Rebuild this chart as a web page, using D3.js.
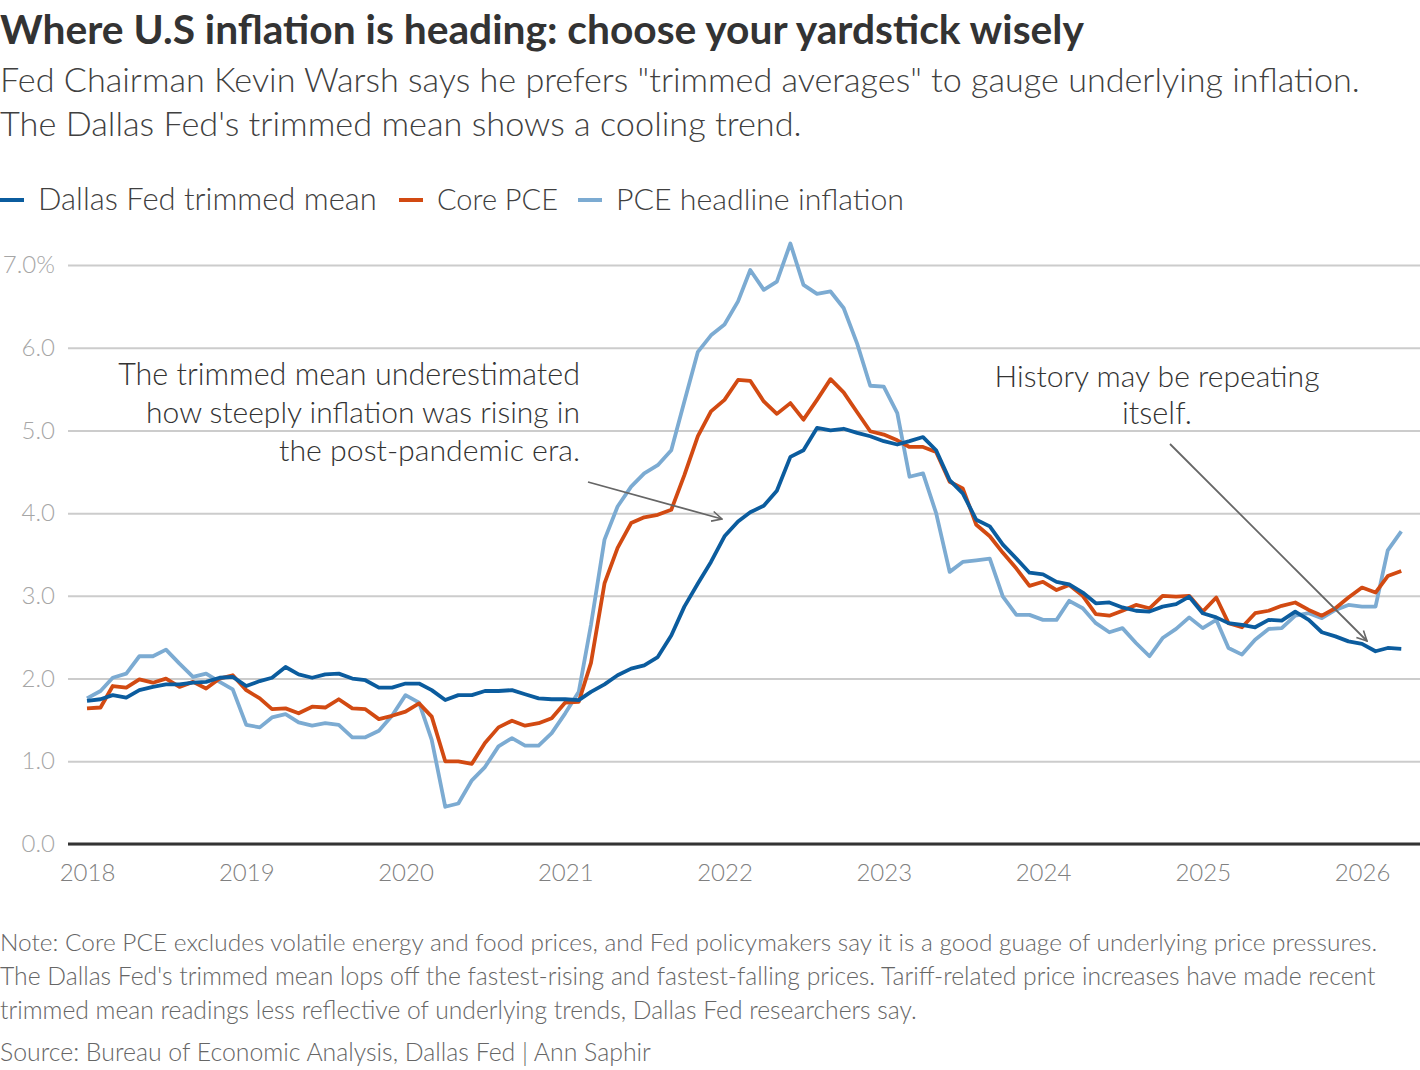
<!DOCTYPE html>
<html>
<head>
<meta charset="utf-8">
<script src="https://cdn.jsdelivr.net/npm/d3@7"></script>
<style>
  body { margin: 0; background: #fff; }
  svg text { font-family: Lato, "Noto Sans", sans-serif; }
</style>
</head>
<body>
<svg id="chart"></svg>
<script>
// monthly readings, Jan 2018 .. Apr 2026 (year-over-year %)
const startMonth = new Date(2018, 0, 1);
const trimmedMean = [
  1.73, 1.75, 1.80, 1.77, 1.86, 1.90, 1.93, 1.93, 1.95, 1.96, 2.01, 2.02,
  1.91, 1.97, 2.01, 2.14, 2.05, 2.01, 2.05, 2.06, 2.00, 1.98, 1.89, 1.89,
  1.94, 1.94, 1.86, 1.74, 1.80, 1.80, 1.85, 1.85, 1.86, 1.81, 1.76, 1.75,
  1.75, 1.74, 1.84, 1.93, 2.04, 2.12, 2.16, 2.26, 2.52, 2.87, 3.15, 3.41,
  3.72, 3.90, 4.01, 4.09, 4.27, 4.68, 4.76, 5.03, 5.00, 5.02, 4.97, 4.93,
  4.87, 4.83, 4.87, 4.92, 4.76, 4.40, 4.24, 3.92, 3.84, 3.62, 3.45, 3.28,
  3.26, 3.17, 3.14, 3.04, 2.91, 2.92, 2.86, 2.82, 2.81, 2.87, 2.90, 2.99,
  2.79, 2.74, 2.67, 2.65, 2.62, 2.71, 2.70, 2.81, 2.71, 2.56, 2.51, 2.45,
  2.42, 2.33, 2.37, 2.36
];
const corePce = [
  1.64, 1.65, 1.91, 1.89, 1.99, 1.95, 2.00, 1.90, 1.96, 1.88, 2.00, 2.04,
  1.86, 1.76, 1.63, 1.64, 1.58, 1.66, 1.65, 1.75, 1.64, 1.63, 1.51, 1.55,
  1.60, 1.70, 1.54, 1.00, 1.00, 0.97, 1.22, 1.41, 1.49, 1.43, 1.46, 1.52,
  1.71, 1.72, 2.19, 3.15, 3.58, 3.88, 3.95, 3.98, 4.04, 4.46, 4.93, 5.23,
  5.37, 5.61, 5.60, 5.35, 5.20, 5.33, 5.13, 5.37, 5.62, 5.46, 5.22, 4.99,
  4.95, 4.88, 4.80, 4.80, 4.74, 4.38, 4.30, 3.86, 3.72, 3.52, 3.33, 3.12,
  3.17, 3.07, 3.13, 3.00, 2.78, 2.76, 2.82, 2.89, 2.85, 3.00, 2.99, 3.00,
  2.81, 2.98, 2.67, 2.62, 2.79, 2.82, 2.88, 2.92, 2.83, 2.76, 2.85, 2.98,
  3.10, 3.04, 3.24, 3.30
];
const pceHeadline = [
  1.76, 1.85, 2.01, 2.06, 2.27, 2.27, 2.35, 2.18, 2.02, 2.06, 1.96, 1.87,
  1.44, 1.41, 1.53, 1.57, 1.47, 1.43, 1.46, 1.44, 1.29, 1.29, 1.37, 1.55,
  1.80, 1.71, 1.26, 0.45, 0.49, 0.77, 0.93, 1.18, 1.28, 1.19, 1.19, 1.34,
  1.58, 1.84, 2.65, 3.68, 4.08, 4.32, 4.48, 4.58, 4.76, 5.35, 5.95, 6.15,
  6.28, 6.56, 6.94, 6.70, 6.80, 7.26, 6.76, 6.65, 6.68, 6.48, 6.05, 5.54,
  5.53, 5.21, 4.44, 4.48, 4.00, 3.29, 3.41, 3.43, 3.45, 2.99, 2.77, 2.77,
  2.71, 2.71, 2.94, 2.85, 2.67, 2.56, 2.61, 2.43, 2.27, 2.49, 2.60, 2.74,
  2.61, 2.71, 2.37, 2.29, 2.47, 2.60, 2.61, 2.76, 2.79, 2.73, 2.83, 2.89,
  2.87, 2.87, 3.55, 3.78
];
const seriesNames = ["Dallas Fed trimmed mean", "Core PCE", "PCE headline inflation"];
const seriesColors = ["#0b5c9e", "#d24a12", "#7cabd2"];
const yTicks = [0, 1, 2, 3, 4, 5, 6, 7];
const xTickYears = [2018, 2019, 2020, 2021, 2022, 2023, 2024, 2025, 2026];

const title = "Where U.S inflation is heading: choose your yardstick wisely";
const subtitle = [
  "Fed Chairman Kevin Warsh says he prefers \"trimmed averages\" to gauge underlying inflation.",
  "The Dallas Fed's trimmed mean shows a cooling trend."
];
const noteLines = [
  "Note: Core PCE excludes volatile energy and food prices, and Fed policymakers say it is a good guage of underlying price pressures.",
  "The Dallas Fed's trimmed mean lops off the fastest-rising and fastest-falling prices. Tariff-related price increases have made recent",
  "trimmed mean readings less reflective of underlying trends, Dallas Fed researchers say."
];
const source = "Source: Bureau of Economic Analysis, Dallas Fed | Ann Saphir";
const annoLeft = ["The trimmed mean underestimated", "how steeply inflation was rising in", "the post-pandemic era."];
const annoRight = ["History may be repeating", "itself."];

const width = 1420, height = 1070;
const svg = d3.select("#chart").attr("width", width).attr("height", height);

// shrink / grow a text element so it spans the width measured on the reference
function fitWidth(sel, target) {
  const node = sel.node();
  const w = node.getComputedTextLength();
  const fs = parseFloat(sel.attr("font-size"));
  sel.attr("font-size", (fs * target / w).toFixed(2));
}

// header
svg.append("text").attr("x", 0).attr("y", 44).attr("font-size", 34)
  .attr("font-weight", 700).attr("fill", "#333").text(title)
  .call(fitWidth, 1084);
const subW = [1360, 802];
subtitle.forEach((t, i) => {
  svg.append("text").attr("x", 0).attr("y", 92 + i * 44).attr("font-size", 29)
    .attr("font-weight", 300).attr("fill", "#404040").text(t)
    .call(fitWidth, subW[i]);
});

// legend
const legendX = [0, 399, 578];
const legendW = [339, 121, 288];
seriesNames.forEach((name, i) => {
  const g = svg.append("g").attr("transform", `translate(${legendX[i]},200)`);
  g.append("line").attr("x1", 0).attr("x2", 24).attr("stroke", seriesColors[i]).attr("stroke-width", 4);
  g.append("text").attr("x", 38).attr("y", 10).attr("font-size", 27)
    .attr("font-weight", 300).attr("fill", "#404040").text(name)
    .call(fitWidth, legendW[i]);
});

// scales
const x = d3.scaleTime()
  .domain([new Date(2018, 0, 1), new Date(2026, 0, 1)])
  .range([87, 1362]);
const y = d3.scaleLinear().domain([0, 7]).range([844, 265]);
const dates = trimmedMean.map((d, i) => d3.timeMonth.offset(startMonth, i));

// gridlines + y labels
const yAxis = d3.axisLeft(y).tickValues(yTicks).tickSize(-(width - 68))
  .tickFormat(d => d === 7 ? "7.0%" : d.toFixed(1));
const yG = svg.append("g").attr("transform", "translate(68,0)").call(yAxis);
yG.select(".domain").remove();
yG.selectAll(".tick line").attr("stroke", "#cccccc").attr("stroke-width", 2);
yG.selectAll(".tick text").attr("x", -13).attr("font-size", 24)
  .attr("font-weight", 300).attr("fill", "#a6a6a6").attr("font-family", "Lato, 'Noto Sans', sans-serif");

// x axis labels
const xAxis = d3.axisBottom(x).tickValues(xTickYears.map(yr => new Date(yr, 0, 1)))
  .tickSize(0).tickFormat(d3.timeFormat("%Y"));
const xG = svg.append("g").attr("transform", "translate(0,844)").call(xAxis);
xG.select(".domain").remove();
xG.selectAll(".tick text").attr("y", 20).attr("font-size", 24)
  .attr("font-weight", 300).attr("fill", "#808080").attr("font-family", "Lato, 'Noto Sans', sans-serif");

// baseline
svg.append("line").attr("x1", 68).attr("x2", width).attr("y1", y(0)).attr("y2", y(0))
  .attr("stroke", "#333").attr("stroke-width", 3);

// lines, headline drawn first so the trimmed mean stays on top
const line = d3.line().x((d, i) => x(dates[i])).y(d => y(d));
const seriesData = [trimmedMean, corePce, pceHeadline];
[2, 1, 0].forEach(i => {
  svg.append("path").datum(seriesData[i]).attr("d", line)
    .attr("fill", "none").attr("stroke", seriesColors[i])
    .attr("stroke-width", 3.8).attr("stroke-linejoin", "round");
});

// annotations
svg.append("defs").append("marker").attr("id", "arrow")
  .attr("viewBox", "0 0 12 12").attr("refX", 11).attr("refY", 6)
  .attr("markerWidth", 12).attr("markerHeight", 12).attr("markerUnits", "userSpaceOnUse")
  .attr("orient", "auto")
  .append("path").attr("d", "M1,1 L11,6 L1,11").attr("fill", "none")
  .attr("stroke", "#666").attr("stroke-width", 1.6);

const leftW = [462, 434, 301];
annoLeft.forEach((t, i) => {
  svg.append("text").attr("x", 580).attr("y", 385 + i * 38).attr("text-anchor", "end")
    .attr("font-size", 27).attr("font-weight", 300).attr("fill", "#333").text(t)
    .call(fitWidth, leftW[i]);
});
svg.append("line").attr("x1", 588).attr("y1", 482).attr("x2", 722).attr("y2", 519)
  .attr("stroke", "#666").attr("stroke-width", 1.8).attr("marker-end", "url(#arrow)");

const rightW = [325, 70];
annoRight.forEach((t, i) => {
  svg.append("text").attr("x", 1157).attr("y", 387 + i * 37).attr("text-anchor", "middle")
    .attr("font-size", 27).attr("font-weight", 300).attr("fill", "#333").text(t)
    .call(fitWidth, rightW[i]);
});
svg.append("line").attr("x1", 1170).attr("y1", 444).attr("x2", 1367).attr("y2", 641)
  .attr("stroke", "#666").attr("stroke-width", 1.8).attr("marker-end", "url(#arrow)");

// footnotes
const noteW = [1378, 1376, 917];
noteLines.forEach((t, i) => {
  svg.append("text").attr("x", 0).attr("y", 951 + i * 34).attr("font-size", 21)
    .attr("font-weight", 300).attr("fill", "#666").text(t)
    .call(fitWidth, noteW[i]);
});
svg.append("text").attr("x", 0).attr("y", 1061).attr("font-size", 21)
  .attr("font-weight", 300).attr("fill", "#666").text(source)
  .call(fitWidth, 651);
</script>
</body>
</html>
